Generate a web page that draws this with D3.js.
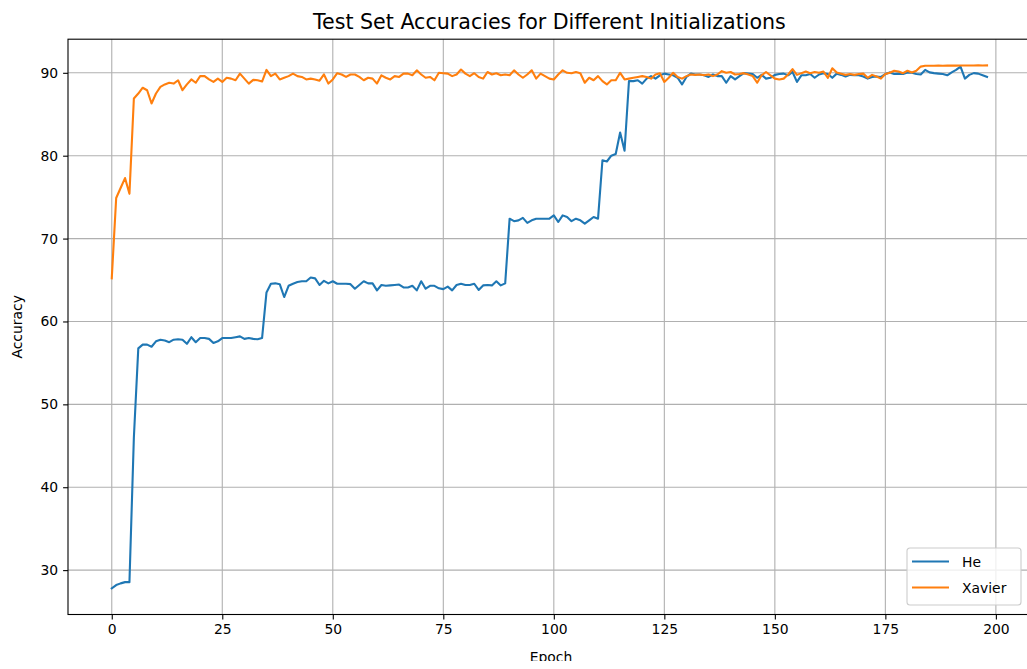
<!DOCTYPE html>
<html>
<head>
<meta charset="utf-8">
<script src="https://cdn.jsdelivr.net/npm/d3@7"></script>
<style>
  body { margin: 0; background: #fff; }
  svg { display: block; }
  text { font-family: 'DejaVu Sans', sans-serif; fill: #000; }
</style>
</head>
<body>
<script>
var width = 1027;
var height = 669;

// accuratezza sul test set per ogni epoca
var heAcc = [
  27.8, 28.2, 28.4, 28.55, 28.55, 46.0, 56.75, 57.2, 57.2, 56.95,
  57.6, 57.8, 57.7, 57.5, 57.8, 57.85, 57.8, 57.3, 58.1, 57.5,
  58.0, 58.0, 57.9, 57.4, 57.6, 58.0, 58.0, 58.0, 58.1, 58.2,
  57.9, 58.0, 57.9, 57.85, 58.0, 63.5, 64.55, 64.6, 64.5, 62.95,
  64.3, 64.55, 64.75, 64.85, 64.85, 65.3, 65.2, 64.4, 64.9, 64.6,
  64.85, 64.55, 64.55, 64.55, 64.5, 63.95, 64.4, 64.85, 64.6, 64.6,
  63.75, 64.4, 64.3, 64.35, 64.4, 64.45, 64.1, 64.1, 64.3, 63.75,
  64.85, 63.95, 64.3, 64.3, 64.0, 63.9, 64.2, 63.75, 64.4, 64.55,
  64.4, 64.4, 64.55, 63.8, 64.35, 64.4, 64.35, 64.85, 64.35, 64.6,
  72.4, 72.1, 72.2, 72.5, 71.9, 72.2, 72.4, 72.4, 72.4, 72.4,
  72.8, 72.0, 72.8, 72.6, 72.1, 72.4, 72.2, 71.8, 72.2, 72.6,
  72.4, 79.45, 79.3, 80.0, 80.2, 82.8, 80.6, 89.0, 89.0, 89.1,
  88.7, 89.3, 89.6, 89.3, 89.7, 89.9, 89.8, 89.7, 89.4, 88.6,
  89.5, 89.9, 89.8, 89.8, 89.7, 89.5, 89.8, 89.6, 89.6, 88.8,
  89.6, 89.2, 89.6, 89.96, 89.9, 89.85, 89.4, 89.75, 89.3, 89.4,
  89.75, 89.85, 89.9, 89.7, 90.1, 88.9, 89.7, 89.7, 89.85, 89.4,
  89.8, 89.95, 89.85, 89.4, 89.9, 89.75, 89.55, 89.75, 89.7, 89.7,
  89.55, 89.3, 89.5, 89.55, 89.5, 89.85, 90.05, 89.85, 89.9, 89.85,
  90.05, 90.0, 89.85, 89.8, 90.35, 90.05, 89.96, 89.9, 89.85, 89.7,
  90.05, 90.35, 90.75, 89.3, 89.75, 89.96, 89.9, 89.7, 89.5
];

var xavierAcc = [
  65.2, 74.9, 76.1, 77.3, 75.4, 86.9, 87.5, 88.2, 87.9, 86.3,
  87.5, 88.3, 88.6, 88.8, 88.7, 89.1, 87.9, 88.6, 89.2, 88.8,
  89.6, 89.6, 89.2, 88.9, 89.3, 88.9, 89.4, 89.3, 89.1, 89.9,
  89.3, 88.7, 89.15, 89.1, 88.95, 90.35, 89.6, 89.9, 89.2, 89.4,
  89.6, 89.9, 89.6, 89.5, 89.2, 89.3, 89.2, 89.05, 89.8, 88.7,
  89.2, 89.95, 89.8, 89.5, 89.8, 89.8, 89.5, 89.1, 89.4, 89.3,
  88.7, 89.7, 89.4, 89.2, 89.6, 89.5, 89.9, 89.9, 89.7, 90.3,
  89.8, 89.4, 89.5, 89.1, 90.0, 89.95, 89.9, 89.6, 89.8, 90.4,
  89.9, 89.6, 89.95, 89.5, 89.3, 90.1, 89.8, 89.95, 89.7, 89.8,
  89.7, 90.3, 89.8, 89.4, 89.8, 90.3, 89.3, 89.9, 89.6, 89.3,
  89.2, 89.8, 90.3, 90.0, 89.95, 90.1, 89.95, 88.8, 89.4, 89.1,
  89.6, 89.0, 88.6, 89.1, 89.1, 90.0, 89.2, 89.3, 89.4, 89.5,
  89.6, 89.5, 89.3, 89.8, 89.95, 88.9, 89.4, 90.0, 89.5, 89.3,
  89.6, 89.8, 89.75, 89.8, 89.7, 89.8, 89.6, 89.8, 90.2, 90.0,
  90.1, 89.8, 89.85, 89.96, 89.8, 89.6, 88.8, 89.7, 90.1, 89.7,
  89.3, 89.2, 89.3, 89.8, 90.45, 89.75, 89.96, 90.15, 89.96, 90.1,
  90.0, 90.15, 89.4, 90.55, 90.05, 89.9, 89.75, 89.85, 89.75, 89.85,
  89.9, 89.4, 89.75, 89.55, 89.3, 89.85, 90.0, 90.25, 90.15, 89.96,
  90.25, 90.05, 90.25, 90.75, 90.85, 90.85, 90.86, 90.87, 90.86, 90.87,
  90.88, 90.87, 90.88, 90.88, 90.89, 90.88, 90.9, 90.89, 90.9
];

var seriesNames = ['He', 'Xavier'];
var seriesColors = ['#1f77b4', '#ff7f0e'];
var xTicks = [0, 25, 50, 75, 100, 125, 150, 175, 200];
var yTicks = [30, 40, 50, 60, 70, 80, 90];

var plot = { left: 68, top: 39.2, right: 1030.8, bottom: 614.5 };

var svg = d3.select('body').append('svg')
  .attr('width', width)
  .attr('height', height);

// margini automatici come matplotlib (5% per lato)
var nEpochs = heAcc.length;
var xPad = (nEpochs - 1) * 0.05;
var allVals = heAcc.concat(xavierAcc);
var yMin = d3.min(allVals), yMax = d3.max(allVals);
var yPad = (yMax - yMin) * 0.05;

var x = d3.scaleLinear().domain([-xPad, nEpochs - 1 + xPad]).range([plot.left, plot.right]);
var y = d3.scaleLinear().domain([yMin - yPad, yMax + yPad]).range([plot.bottom, plot.top]);

// griglia
var grid = svg.append('g');
grid.selectAll('line.vx')
  .data(xTicks)
  .enter()
  .append('line')
  .attr('x1', function (d) { return x(d) })
  .attr('x2', function (d) { return x(d) })
  .attr('y1', plot.top)
  .attr('y2', plot.bottom)
  .style('stroke', '#b0b0b0')
  .style('stroke-width', 1.1);
grid.selectAll('line.hy')
  .data(yTicks)
  .enter()
  .append('line')
  .attr('x1', plot.left)
  .attr('x2', plot.right)
  .attr('y1', function (d) { return y(d) })
  .attr('y2', function (d) { return y(d) })
  .style('stroke', '#b0b0b0')
  .style('stroke-width', 1.1);

// linee delle due inizializzazioni
var line = d3.line()
  .x(function (d, i) { return x(i) })
  .y(function (d) { return y(d) });

[heAcc, xavierAcc].forEach(function (vals, k) {
  svg.append('path')
    .datum(vals)
    .attr('d', line)
    .style('fill', 'none')
    .style('stroke', seriesColors[k])
    .style('stroke-width', 2.1)
    .style('stroke-linejoin', 'round')
    .style('stroke-linecap', 'square');
});

// assi
var xAxis = svg.append('g')
  .attr('transform', 'translate(0,' + plot.bottom + ')')
  .call(d3.axisBottom(x).tickValues(xTicks).tickSize(4.9).tickPadding(4.5));
var yAxis = svg.append('g')
  .attr('transform', 'translate(' + plot.left + ',0)')
  .call(d3.axisLeft(y).tickValues(yTicks).tickSize(4.9).tickPadding(4.9));

[xAxis, yAxis].forEach(function (a) {
  a.select('.domain').remove();
  a.selectAll('.tick line').style('stroke', '#000').style('stroke-width', 1.1);
  a.selectAll('.tick text')
    .style('font-family', "'DejaVu Sans', sans-serif")
    .style('font-size', '13.9px')
    .style('fill', '#000');
});

// cornice
svg.append('rect')
  .attr('x', plot.left)
  .attr('y', plot.top)
  .attr('width', plot.right - plot.left)
  .attr('height', plot.bottom - plot.top)
  .style('fill', 'none')
  .style('stroke', '#000')
  .style('stroke-width', 1.1);

// titolo ed etichette
svg.append('text')
  .attr('x', (plot.left + plot.right) / 2)
  .attr('y', 28.5)
  .attr('text-anchor', 'middle')
  .style('font-size', '20.6px')
  .text('Test Set Accuracies for Different Initializations');

// l'immagine originale taglia l'etichetta dell'asse x
svg.append('clipPath')
  .attr('id', 'cutBottom')
  .append('rect')
  .attr('x', 0)
  .attr('y', 0)
  .attr('width', width)
  .attr('height', 661);

svg.append('text')
  .attr('x', 551)
  .attr('y', 662)
  .attr('text-anchor', 'middle')
  .attr('clip-path', 'url(#cutBottom)')
  .style('font-size', '13.9px')
  .text('Epoch');

svg.append('text')
  .attr('transform', 'translate(22,' + ((plot.top + plot.bottom) / 2) + ') rotate(-90)')
  .attr('text-anchor', 'middle')
  .style('font-size', '13.9px')
  .text('Accuracy');

// legenda in basso a destra
var legend = svg.append('g').attr('transform', 'translate(907,548)');
legend.append('rect')
  .attr('width', 114)
  .attr('height', 57)
  .attr('rx', 3)
  .style('fill', '#fff')
  .style('fill-opacity', 0.8)
  .style('stroke', '#cccccc')
  .style('stroke-width', 1.1);

var items = legend.selectAll('g.item')
  .data(seriesNames)
  .enter()
  .append('g')
  .attr('transform', function (d, i) { return 'translate(0,' + (13.5 + i * 26) + ')' });
items.append('line')
  .attr('x1', 5)
  .attr('x2', 42)
  .style('stroke', function (d, i) { return seriesColors[i] })
  .style('stroke-width', 2.1);
items.append('text')
  .attr('x', 55)
  .attr('y', 5)
  .style('font-size', '13.9px')
  .text(function (d) { return d });
</script>
</body>
</html>
